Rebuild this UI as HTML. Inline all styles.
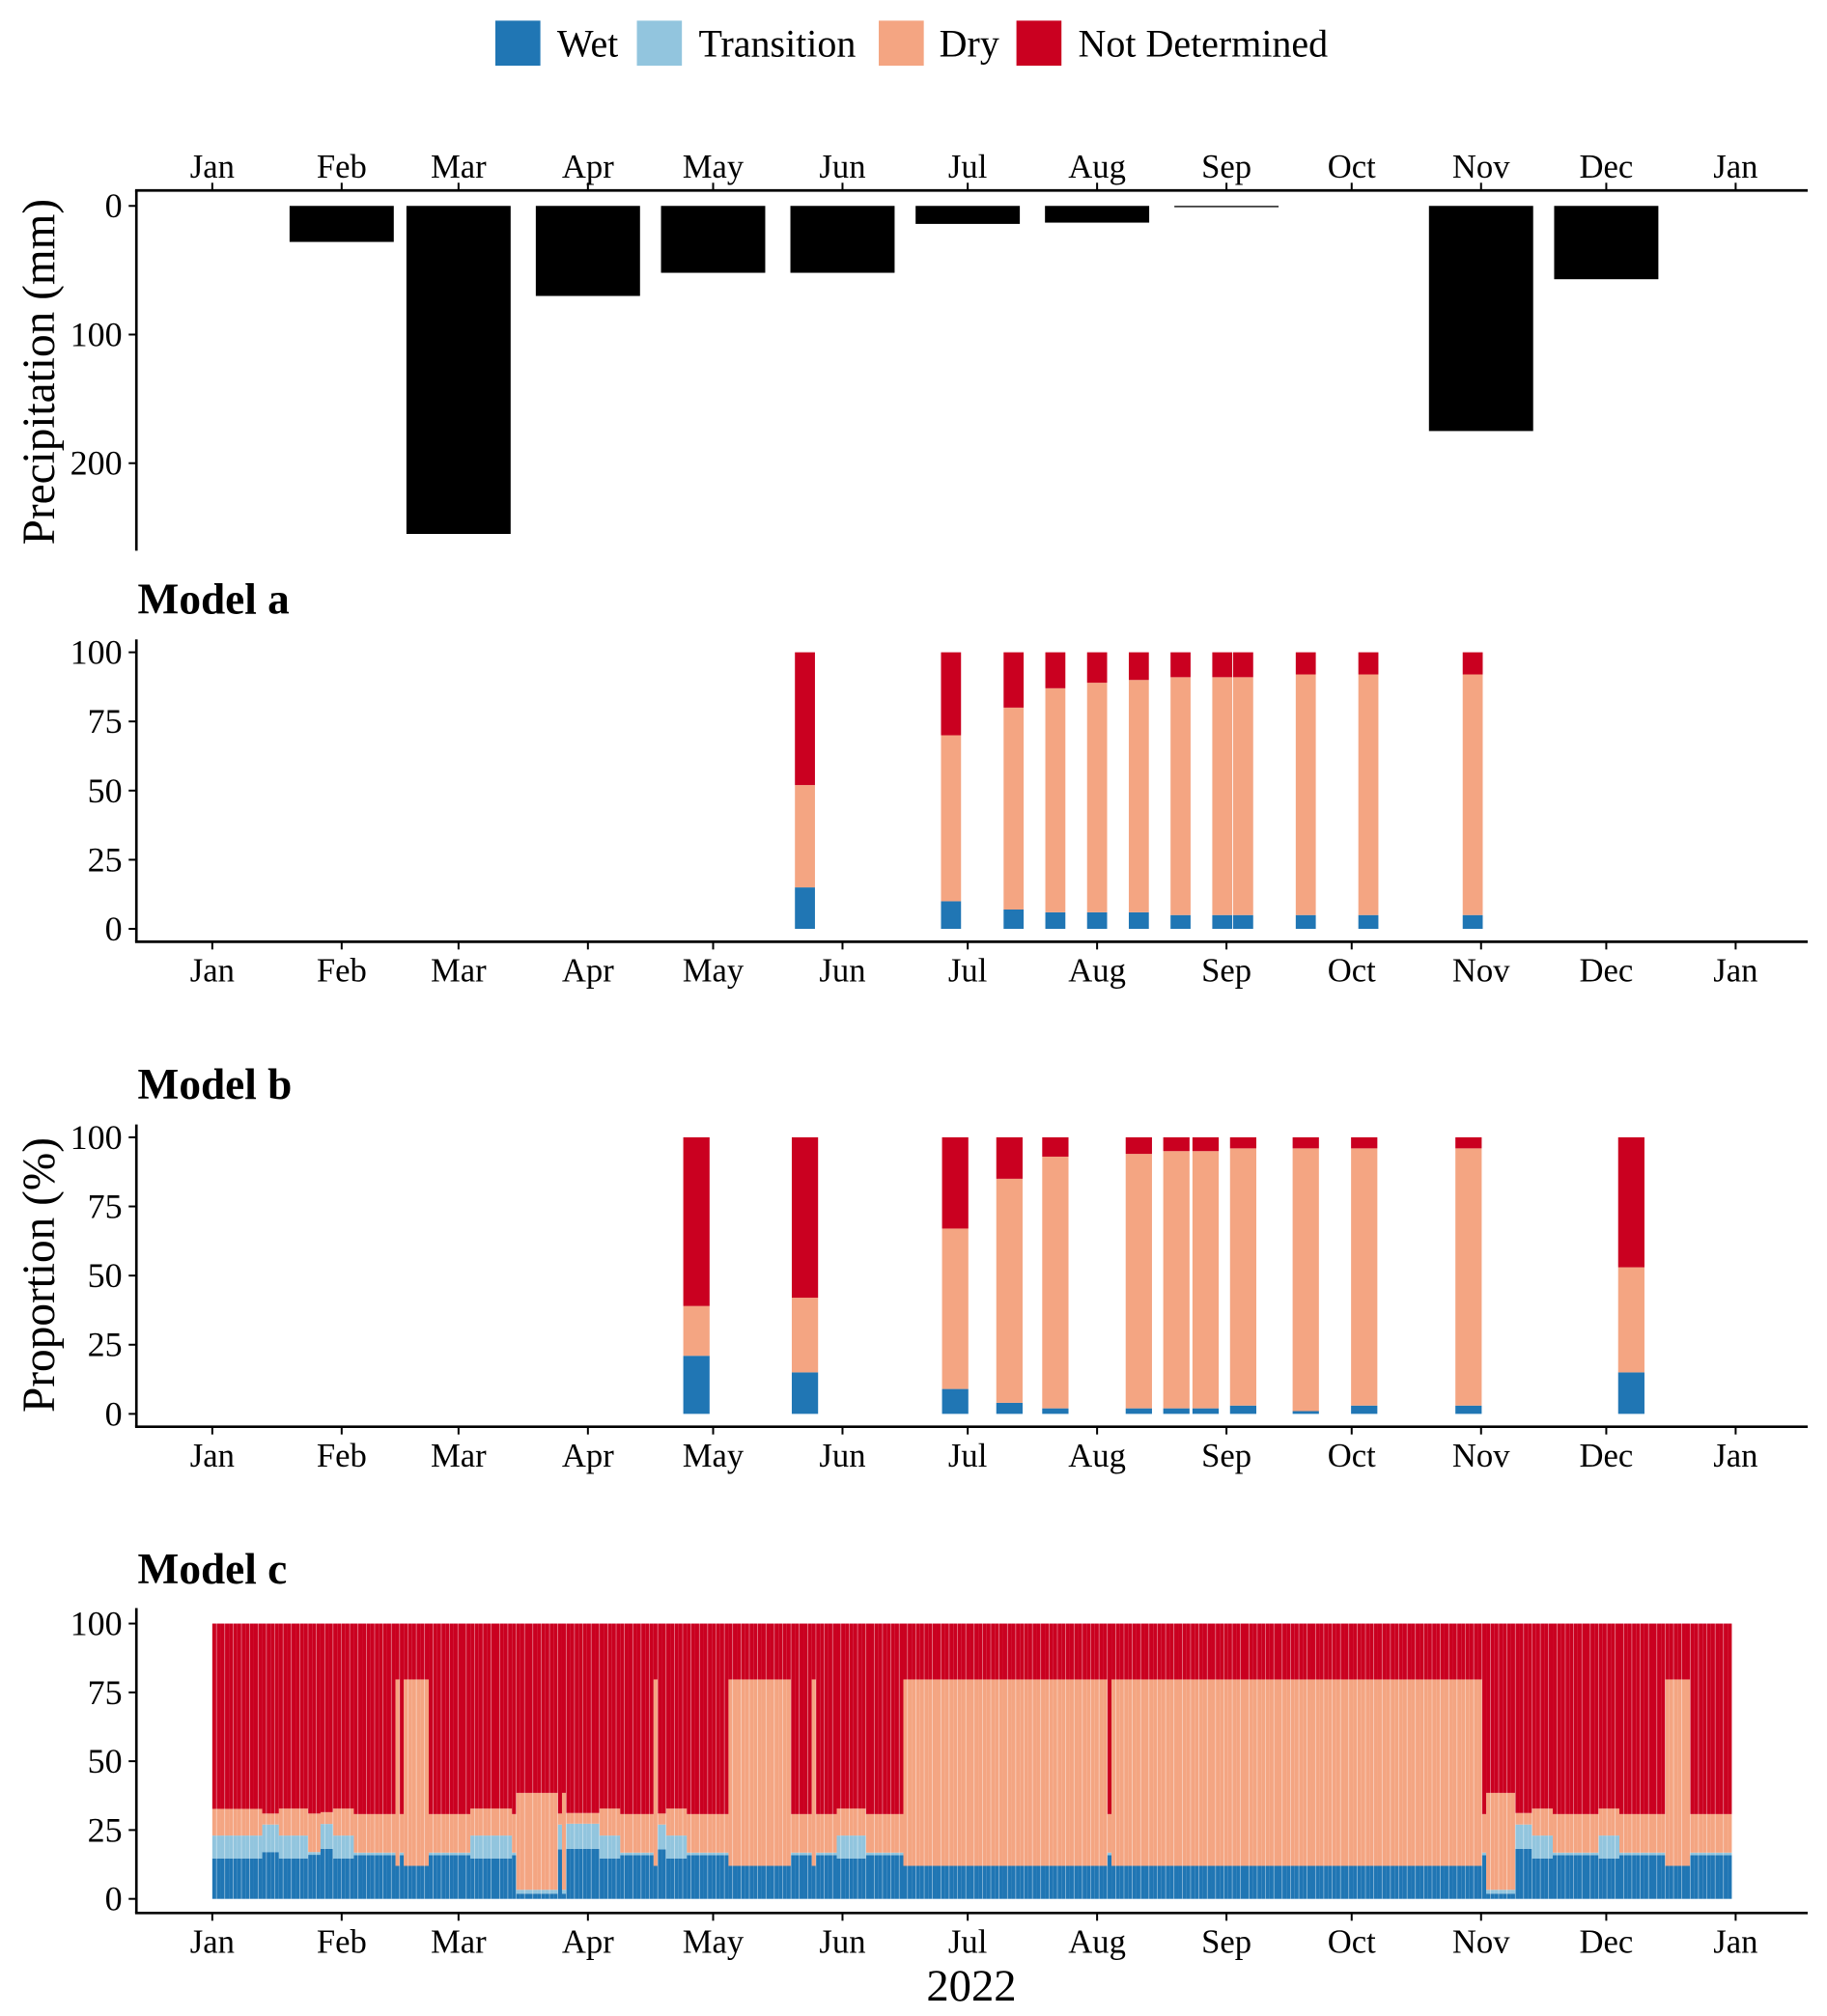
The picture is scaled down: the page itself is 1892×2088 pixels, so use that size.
<!DOCTYPE html>
<html><head><meta charset="utf-8"><style>
html,body{margin:0;padding:0;background:#fff}
svg{display:block;font-family:"Liberation Serif","DejaVu Serif",serif}
</style></head><body>
<svg id="chart" xmlns="http://www.w3.org/2000/svg" width="1892" height="2088" viewBox="0 0 1420 1567">
<g font-size="30">
 <g><rect x="385" y="16" width="35" height="35" fill="#2076b4"/><text x="433" y="44">Wet</text></g>
 <g><rect x="495" y="16" width="35" height="35" fill="#92c5de"/><text x="543" y="44">Transition</text></g>
 <g><rect x="683" y="16" width="35" height="35" fill="#f4a582"/><text x="730" y="44">Dry</text></g>
 <g><rect x="790" y="16" width="35" height="35" fill="#ca0020"/><text x="838" y="44">Not Determined</text></g>
</g>
<g id="precip"></g>
<g id="pa"></g>
<g id="pb"></g>
<g id="pc"></g>
<text x="755" y="1555" font-size="35" text-anchor="middle">2022</text>
<text transform="translate(42,289) rotate(-90)" font-size="35.5" text-anchor="middle">Precipitation (mm)</text>
<text transform="translate(42,991) rotate(-90)" font-size="35.5" text-anchor="middle">Proportion (%)</text>
</svg>
<script>
// ---- data ----
const monthLabels = ["Jan","Feb","Mar","Apr","May","Jun","Jul","Aug","Sep","Oct","Nov","Dec","Jan"];
const monthStarts = [0,31,59,90,120,151,181,212,243,273,304,334,365];
const precipMonths = [31,59,90,120,151,181,212,243,304,334];
const precipValues = [28,255,70,52,52,14,13,1,175,57];
const precipTicks = [0,100,200];
const propTicks = [100,75,50,25,0];

const aDays = [142,177,192,202,212,222,232,242,247,262,277,302];
const aWet  = [15,10,7,6,6,6,5,5,5,5,5,5];
const aDry  = [37,60,73,81,83,84,86,86,86,87,87,87];

const bDays = [116,142,178,191,202,222,231,238,247,262,276,301,340];
const bWet  = [21,15,9,4,2,2,2,2,3,1,3,3,15];
const bDry  = [18,27,58,81,91,92,93,93,93,95,93,93,38];

// model c segments: start day, end day, wet, transition, dry (%), remainder not determined
const cStart = [0,12,16,23,26,29,34,44,45,46,52,62,72,73,83,84,85,93,98,106,107,109,114,124,139,144,145,150,157,166,215,216,305,306,313,317,322,333,338,349,355];
const cEnd   = [12,16,23,26,29,34,44,45,46,52,62,72,73,83,84,85,93,98,106,107,109,114,124,139,144,145,150,157,166,215,216,305,306,313,317,322,333,338,349,355,365];
const cWet   = [14.7,17,14.7,16,18.2,14.7,15.9,12,15.9,12,15.9,14.7,15.9,1.9,18,1.9,18.2,14.7,15.9,12,18,14.7,15.9,12,15.9,12,15.9,14.7,15.9,12,15.9,12,15.9,1.9,18.2,14.7,15.9,14.7,15.9,12,15.9];
const cTrans = [8.3,10,8.3,1,9,8.3,0.9,0,0.9,0,0.9,8.3,0.9,1.4,9,1.4,9.1,8.3,0.9,0,9,8.3,0.9,0,0.9,0,0.9,8.3,0.9,0,0.9,0,0.9,1.4,8.8,8.3,0.9,8.3,0.9,0,0.9];
const cDry   = [9.7,4,9.8,14,4.3,9.8,14,67.7,14,67.7,14,9.8,14,35.2,4,35.2,3.9,9.8,14,67.7,4,9.8,14,67.7,14,67.7,14,9.8,14,67.7,14,67.7,14,35.2,4.2,9.8,14,9.8,14,67.7,14];

// ---- helpers ----
const NS="http://www.w3.org/2000/svg";
const COL={wet:"#2076b4",trans:"#92c5de",dry:"#f4a582",nd:"#ca0020"};
const X0=165, PXD=1184/365;
function xScale(d){return X0+d*PXD;}
function mk(tag,attrs,parent){const e=document.createElementNS(NS,tag);for(const k in attrs)e.setAttribute(k,attrs[k]);parent.appendChild(e);return e;}

function axes(g,yTop,yBot,axisY,yFn,ticks,labelsBelow){
  const l=mk('line',{x1:106,y1:yTop,x2:106,y2:yBot,stroke:'#000','stroke-width':2},g);
  
  
  const xl=mk('line',{x1:105,y1:axisY,x2:1405,y2:axisY,stroke:'#000','stroke-width':2},g);
  
  
  ticks.forEach(t=>{
    const y=yFn(t);
    mk('line',{x1:100,y1:y,x2:106,y2:y,stroke:'#000','stroke-width':1.5},g);
    const tx=mk('text',{x:95,y:y+9,'font-size':27,'text-anchor':'end'},g);
    tx.textContent=t;
    
    
  });
  monthStarts.forEach((d,i)=>{
    const x=xScale(d);
    if(labelsBelow){
      mk('line',{x1:x,y1:axisY,x2:x,y2:axisY+6,stroke:'#000','stroke-width':1.5},g);
    }else{
      mk('line',{x1:x,y1:axisY,x2:x,y2:axisY-6,stroke:'#000','stroke-width':1.5},g);
    }
    const tx=mk('text',{x:x,y:labelsBelow?axisY+31:axisY-10,'font-size':26,'text-anchor':'middle'},g);
    tx.textContent=monthLabels[i];
    
    
  });
}

// ---- precipitation ----
(function(){
  const g=document.getElementById('precip');
  const y0=160, ppm=1.0;
  const yFn=v=>y0+v*ppm;
  precipMonths.forEach((d,i)=>{
    const cx=xScale(d), w=81, h=Math.max(precipValues[i]*ppm,1);
    const r=mk('rect',{x:cx-w/2,y:y0,width:w,height:h,fill:'#000'},g);
    
    
  });
  axes(g,148,428,148,yFn,precipTicks,false);
})();

function stackedPanel(id,title,titleY,y0,y100,days,wet,dry,width){
  const g=document.getElementById(id);
  const k=(y0-y100)/100, yFn=v=>y0-v*k;
  const t=mk('text',{x:107,y:titleY,'font-size':34,'font-weight':'bold'},g);
  t.textContent=title;
  
  
  days.forEach((d,i)=>{
    const x=xScale(d)-width*PXD/2, w=width*PXD;
    const segs=[[0,wet[i],COL.wet,'wet'],[wet[i],wet[i]+dry[i],COL.dry,'dry'],[wet[i]+dry[i],100,COL.nd,'not-determined']];
    segs.forEach(s=>{
      if(s[1]<=s[0])return;
      const r=mk('rect',{x:x,y:yFn(s[1]),width:w,height:(s[1]-s[0])*k,fill:s[2]},g);
      
      
    });
  });
  axes(g,497,y0+10,y0+10,yFn,propTicks,true);
  g.querySelector('line').setAttribute('y1',y100-10);
}
stackedPanel('pa','Model a',477,722,507,aDays,aWet,aDry,4.8);
stackedPanel('pb','Model b',854,1099,884,bDays,bWet,bDry,6.3);

// ---- model c ----
(function(){
  const g=document.getElementById('pc');
  const y0=1476,y100=1262,k=(y0-y100)/100,yFn=v=>y0-v*k;
  const t=mk('text',{x:107,y:1231,'font-size':34,'font-weight':'bold'},g);
  t.textContent='Model c';
  
  
  const W=1181/365;
  cStart.forEach((s,i)=>{
    for(let d=s;d<cEnd[i];d++){
      const x=165+d*W, w=W;
      const a=cWet[i], b=a+cTrans[i], c=b+cDry[i];
      const segs=[[0,a,COL.wet,'wet'],[a,b,COL.trans,'transition'],[b,c,COL.dry,'dry'],[c,100,COL.nd,'not-determined']];
      segs.forEach(sg=>{
        if(sg[1]<=sg[0])return;
        const r=mk('rect',{x:x,y:yFn(sg[1]),width:w,height:(sg[1]-sg[0])*k,fill:sg[2]},g);
        
        
      });
      if(d%2===1){
        const gl=mk('line',{x1:x,y1:y100,x2:x,y2:y0,stroke:'#fff','stroke-width':0.5,'stroke-opacity':0.55},g);
        
        
      }
    }
  });
  axes(g,1250,1487,1487,yFn,propTicks,true);
})();
</script>
</body></html>
